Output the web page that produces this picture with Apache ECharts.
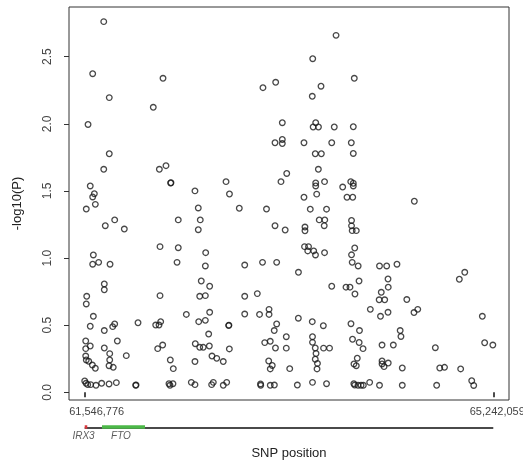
<!DOCTYPE html>
<html><head><meta charset="utf-8">
<script src="https://cdn.jsdelivr.net/npm/echarts@6/dist/echarts.min.js"></script>
<style>html,body{margin:0;padding:0;background:#fff}#c{width:523px;height:461px}</style>
</head><body><div id="c"></div>
<script>
// SNP positions (Mb) and -log10(P) values
const snpPositionMb = [
61.547,61.559,61.574,61.601,61.649,61.556,61.556,61.597,61.556,61.561,61.583,61.616,61.643,61.597,61.625,61.565,61.561,61.625,61.619,61.673,61.561,61.643,61.634,61.619,61.597,61.577,61.619,
61.700,61.767,61.833,61.724,61.800,61.818,61.842,61.724,61.773,61.923,61.773,61.767,61.805,61.724,61.724,61.776,61.818,61.733,61.905,61.769,61.719,61.769,61.719,
62.008,62.011,62.029,62.189,62.219,62.234,62.207,62.252,62.228,62.228,62.167,62.255,62.222,62.282,62.324,62.327,62.309,62.318,62.345,62.321,62.348,62.393,62.393,62.382,62.466,
62.511,62.544,62.547,62.587,62.619,62.674,62.544,62.578,62.638,62.668,62.677,62.587,62.638,62.601,62.677,62.641,62.638,62.574,62.592,62.574,62.544,62.698,62.741,62.800,62.695,62.710,62.800,62.831,62.855,62.849,62.851,62.825,62.856,
62.945,62.994,62.994,62.994,63.108,63.128,63.155,63.159,63.137,63.139,63.175,63.191,63.211,63.214,63.214,63.225,63.243,63.225,63.225,63.262,63.283,63.283,63.261,63.272,63.268,63.268,63.274,63.334,63.334,63.334,63.322,63.374,63.360,63.370,63.370,63.401,63.480,63.479,63.470,
63.530,63.530,63.539,63.539,63.535,63.571,63.564,63.618,63.634,63.716,63.587,63.605,63.609,63.636,63.613,63.661,63.632,63.687,63.660,63.636,63.636,63.645,63.684,63.716,63.734,63.668,63.718,63.713,63.605,63.705,63.607,63.607,63.632,63.639,63.632,63.652,63.648,63.707,63.761,63.607,63.734,63.781,63.781,63.804,63.820,
63.880,63.919,63.971,63.910,63.946,63.958,63.976,63.976,63.985,63.953,63.976,63.976,63.960,63.960,63.966,64.003,63.989,63.960,63.966,64.020,64.028,63.991,63.955,64.032,63.969,64.029,64.064,64.012,63.982,64.003,63.981,63.989,64.019,64.046,64.067,64.124,
64.130,64.213,64.278,64.371,64.290,64.292,64.229,64.210,64.260,64.460,64.222,64.290,64.525,64.559,64.400,64.407,64.236,64.338,64.236,64.236,64.254,64.292,64.419,64.213,64.419,64.528,
64.718,64.730,64.758,64.801,64.935,64.984,64.947,65.047,65.065,65.143,65.164,65.238
];
const negLog10P = [
0.084,0.067,0.057,0.057,0.052,0.382,0.325,0.345,0.270,0.241,0.231,0.203,0.179,0.492,0.566,0.715,0.658,1.023,0.954,0.968,1.365,1.400,1.479,1.455,1.537,1.995,2.373,
0.067,0.062,0.072,0.460,0.489,0.509,0.382,0.330,0.288,0.273,0.241,0.198,0.186,0.807,0.764,0.954,1.284,1.241,1.216,1.777,1.661,2.195,2.761,
0.052,0.054,0.518,0.501,0.501,0.526,0.325,0.352,0.720,1.085,2.123,2.339,1.661,1.688,1.559,1.561,0.064,0.052,0.064,0.241,0.176,1.284,1.077,0.968,0.580,
0.074,0.057,0.362,0.335,0.335,0.345,0.229,0.526,0.536,0.434,0.596,0.715,0.720,0.829,0.790,1.040,0.941,1.211,1.284,1.373,1.500,0.270,0.253,0.229,0.057,0.074,0.052,0.074,0.323,0.497,0.500,1.569,1.477,
1.371,0.948,0.715,0.583,0.735,0.580,0.968,2.269,0.062,0.052,0.370,1.365,0.233,0.618,0.580,0.380,0.200,0.174,0.052,0.054,0.968,0.509,0.460,0.330,1.241,1.859,2.309,2.008,1.883,1.853,1.569,1.630,1.209,0.414,0.329,0.176,0.894,0.552,0.054,
1.859,1.453,1.231,1.203,1.085,1.085,1.053,1.053,1.023,1.040,1.364,2.205,2.485,2.008,1.976,1.976,1.777,1.777,1.661,1.559,1.537,1.476,2.280,1.569,1.364,1.284,1.284,1.241,0.526,0.496,0.414,0.372,0.330,0.289,0.246,0.215,0.174,0.329,0.329,0.074,0.064,0.790,1.859,1.976,2.659,
1.529,1.453,1.453,0.783,0.783,1.859,1.978,1.779,2.339,1.569,1.557,1.537,1.280,1.240,1.204,1.204,1.075,1.024,0.968,0.941,0.829,0.732,0.511,0.460,0.395,0.371,0.325,0.254,0.211,0.198,0.064,0.054,0.052,0.052,0.052,0.074,
0.618,0.941,0.941,0.954,0.844,0.783,0.745,0.689,0.689,0.691,0.566,0.596,0.594,0.618,0.460,0.416,0.352,0.352,0.233,0.211,0.191,0.218,0.181,0.052,0.052,1.423,
0.332,0.052,0.181,0.186,0.842,0.894,0.174,0.086,0.051,0.566,0.369,0.352
];
// axis ticks
const xTickValues = [61.546776, 65.242059];
const yTickValues = [0, 0.5, 1.0, 1.5, 2.0, 2.5];
// gene track
const geneNames = ['IRX3', 'FTO'];
const geneStartMb = [61.547, 61.703];
const geneEndMb = [61.570, 62.092];

const X_MIN = 61.4048, X_MAX = 65.3842;
const Y_MIN = -0.0574, Y_MAX = 2.870;
const geneColors = ['#d8363c', '#4cb848'];

const points = snpPositionMb.map((x, i) => [x, negLog10P[i]]);
const fmtPos = v => Math.round(v * 1e6).toLocaleString('en-US');

const series = [{
  type: 'scatter', xAxisIndex: 0, yAxisIndex: 0, data: points,
  symbol: 'circle', symbolSize: 5.6,
  itemStyle: { color: 'rgba(0,0,0,0)', borderColor: '#1a1a1a', borderWidth: 1.3 },
  silent: true
}, {
  type: 'line', xAxisIndex: 1, yAxisIndex: 1, symbol: 'none', silent: true,
  data: [[xTickValues[0], 0.5], [xTickValues[1], 0.5]],
  lineStyle: { color: '#4a4a4a', width: 2 }
}];
geneNames.forEach((g, i) => {
  series.push({
    type: 'line', xAxisIndex: 1, yAxisIndex: 1, symbol: 'none', silent: true,
    data: [[geneStartMb[i], 0.56], [geneEndMb[i], 0.56]],
    lineStyle: { color: geneColors[i], width: 3.5, cap: 'butt' }, z: 3
  });
});
series.push({
  type: 'scatter', xAxisIndex: 1, yAxisIndex: 1, symbolSize: 0, silent: true,
  data: geneNames.map((g, i) => ({ name: g, value: [(geneStartMb[i] + geneEndMb[i]) / 2, 0.5] })),
  label: { show: true, position: 'inside', formatter: p => p.name, offset: [-2.5, 8],
    fontStyle: 'italic', fontSize: 10, color: '#333', fontFamily: 'Liberation Sans' }
});

const chart = echarts.init(document.getElementById('c'), null, { renderer: 'canvas' });
chart.setOption({
  animation: false,
  backgroundColor: '#fff',
  grid: [
    { left: 69, right: 14, top: 7, bottom: 61, show: true, borderColor: '#333', borderWidth: 1,
      backgroundColor: 'transparent', containLabel: false, outerBoundsMode: 'none' },
    { left: 69, right: 14, top: 420, height: 16, show: false, containLabel: false, outerBoundsMode: 'none' }
  ],
  xAxis: [{
    type: 'value', gridIndex: 0, min: X_MIN, max: X_MAX,
    name: 'SNP position', nameLocation: 'middle', nameGap: 47,
    nameTextStyle: { fontSize: 13, color: '#222', fontFamily: 'Liberation Sans' },
    axisLine: { show: false }, splitLine: { show: false },
    axisTick: { show: true, customValues: xTickValues, length: 5, lineStyle: { color: '#111', width: 1.5 } },
    axisLabel: { show: true, customValues: xTickValues, margin: 6,
      formatter: v => (Math.abs(v - xTickValues[0]) < 1e-6 ? '{a|' : '{b|') + fmtPos(v) + '}',
      rich: {
        a: { fontSize: 11, color: '#444', fontFamily: 'Liberation Sans', padding: [0, 0, 0, 24] },
        b: { fontSize: 11, color: '#444', fontFamily: 'Liberation Sans', padding: [0, 0, 0, 8] }
      }
    }
  }, {
    type: 'value', gridIndex: 1, min: X_MIN, max: X_MAX, show: false
  }],
  yAxis: [{
    type: 'value', gridIndex: 0, min: Y_MIN, max: Y_MAX,
    name: '-log10(P)', nameLocation: 'middle', nameGap: 45,
    nameTextStyle: { fontSize: 13, color: '#222', fontFamily: 'Liberation Sans' },
    axisLine: { show: false }, splitLine: { show: false },
    axisTick: { show: true, customValues: yTickValues, length: 5, lineStyle: { color: '#333', width: 1 } },
    axisLabel: { show: true, customValues: yTickValues, rotate: 90, margin: 15,
      formatter: v => v.toFixed(1), fontSize: 12, color: '#444', fontFamily: 'Liberation Sans' }
  }, {
    type: 'value', gridIndex: 1, min: 0, max: 1, show: false
  }],
  series: series
});
</script>
</body></html>
